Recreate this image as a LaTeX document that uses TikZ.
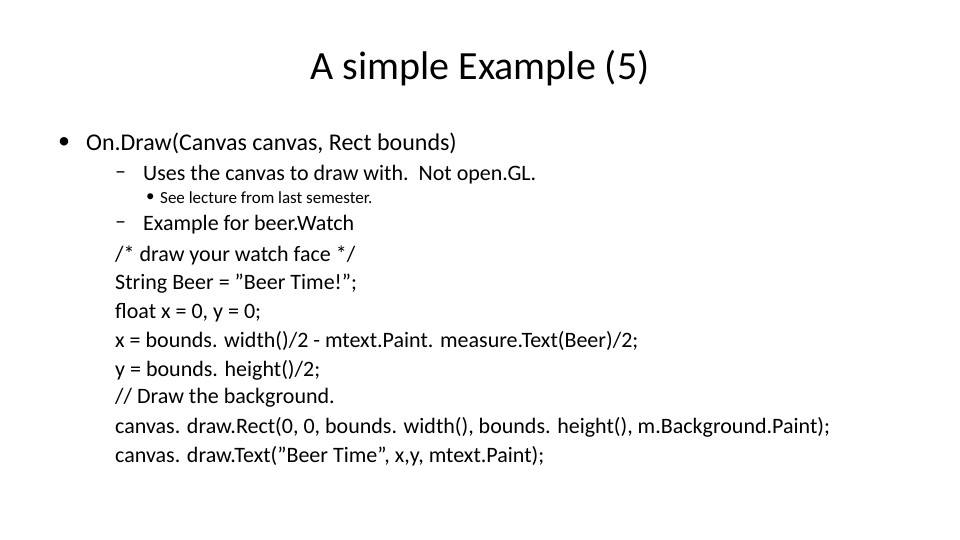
\documentclass[tikz,border=0pt]{standalone}
\usepackage{fontspec}
\setmainfont{Carlito}
\begin{document}
\begin{tikzpicture}[x=1pt,y=-1pt,
  t/.style={anchor=west,inner sep=0pt},
  lone/.style={t,font=\fontsize{24}{28}\selectfont},
  ltwo/.style={t,font=\fontsize{22}{26}\selectfont},
  lthree/.style={t,font=\fontsize{17}{20}\selectfont}]
\useasboundingbox (0,0) rectangle (960,540);
\node[inner sep=0pt,font=\fontsize{40}{46}\selectfont] (title) at (480,68) {A simple Example (5)};
\node[lone] (b1) at (58,143) {•};
\node[lone] (l1) at (86,143) {On.Draw(Canvas canvas, Rect bounds)};
\node[ltwo] (d1) at (115,175) {–};
\node[ltwo] (l2) at (143,175) {Uses the canvas to draw with.\ \ Not open.GL.};
\node[lthree] (b2) at (146,198) {•};
\node[lthree] (l3) at (160,198) {See lecture from last semester.};
\node[ltwo] (d2) at (115,225) {–};
\node[ltwo] (l4) at (143,225) {Example for beer.Watch};
\node[ltwo] (c1) at (115,255) {/* draw your watch face */};
\node[ltwo] (c2) at (115,284) {String Beer = "Beer Time!";};
\node[ltwo] (c3) at (115,313) {float x = 0, y = 0;};
\node[ltwo] (c4) at (115,341) {x = bounds. width()/2 - mtext.Paint. measure.Text(Beer)/2;};
\node[ltwo] (c5) at (115,370) {y = bounds. height()/2;};
\node[ltwo] (c6) at (115,398) {// Draw the background.};
\node[ltwo] (c7) at (115,427) {canvas. draw.Rect(0, 0, bounds. width(), bounds. height(), m.Background.Paint);};
\node[ltwo] (c8) at (115,456) {canvas. draw.Text("Beer Time", x,y, mtext.Paint);};
\end{tikzpicture}
\end{document}
